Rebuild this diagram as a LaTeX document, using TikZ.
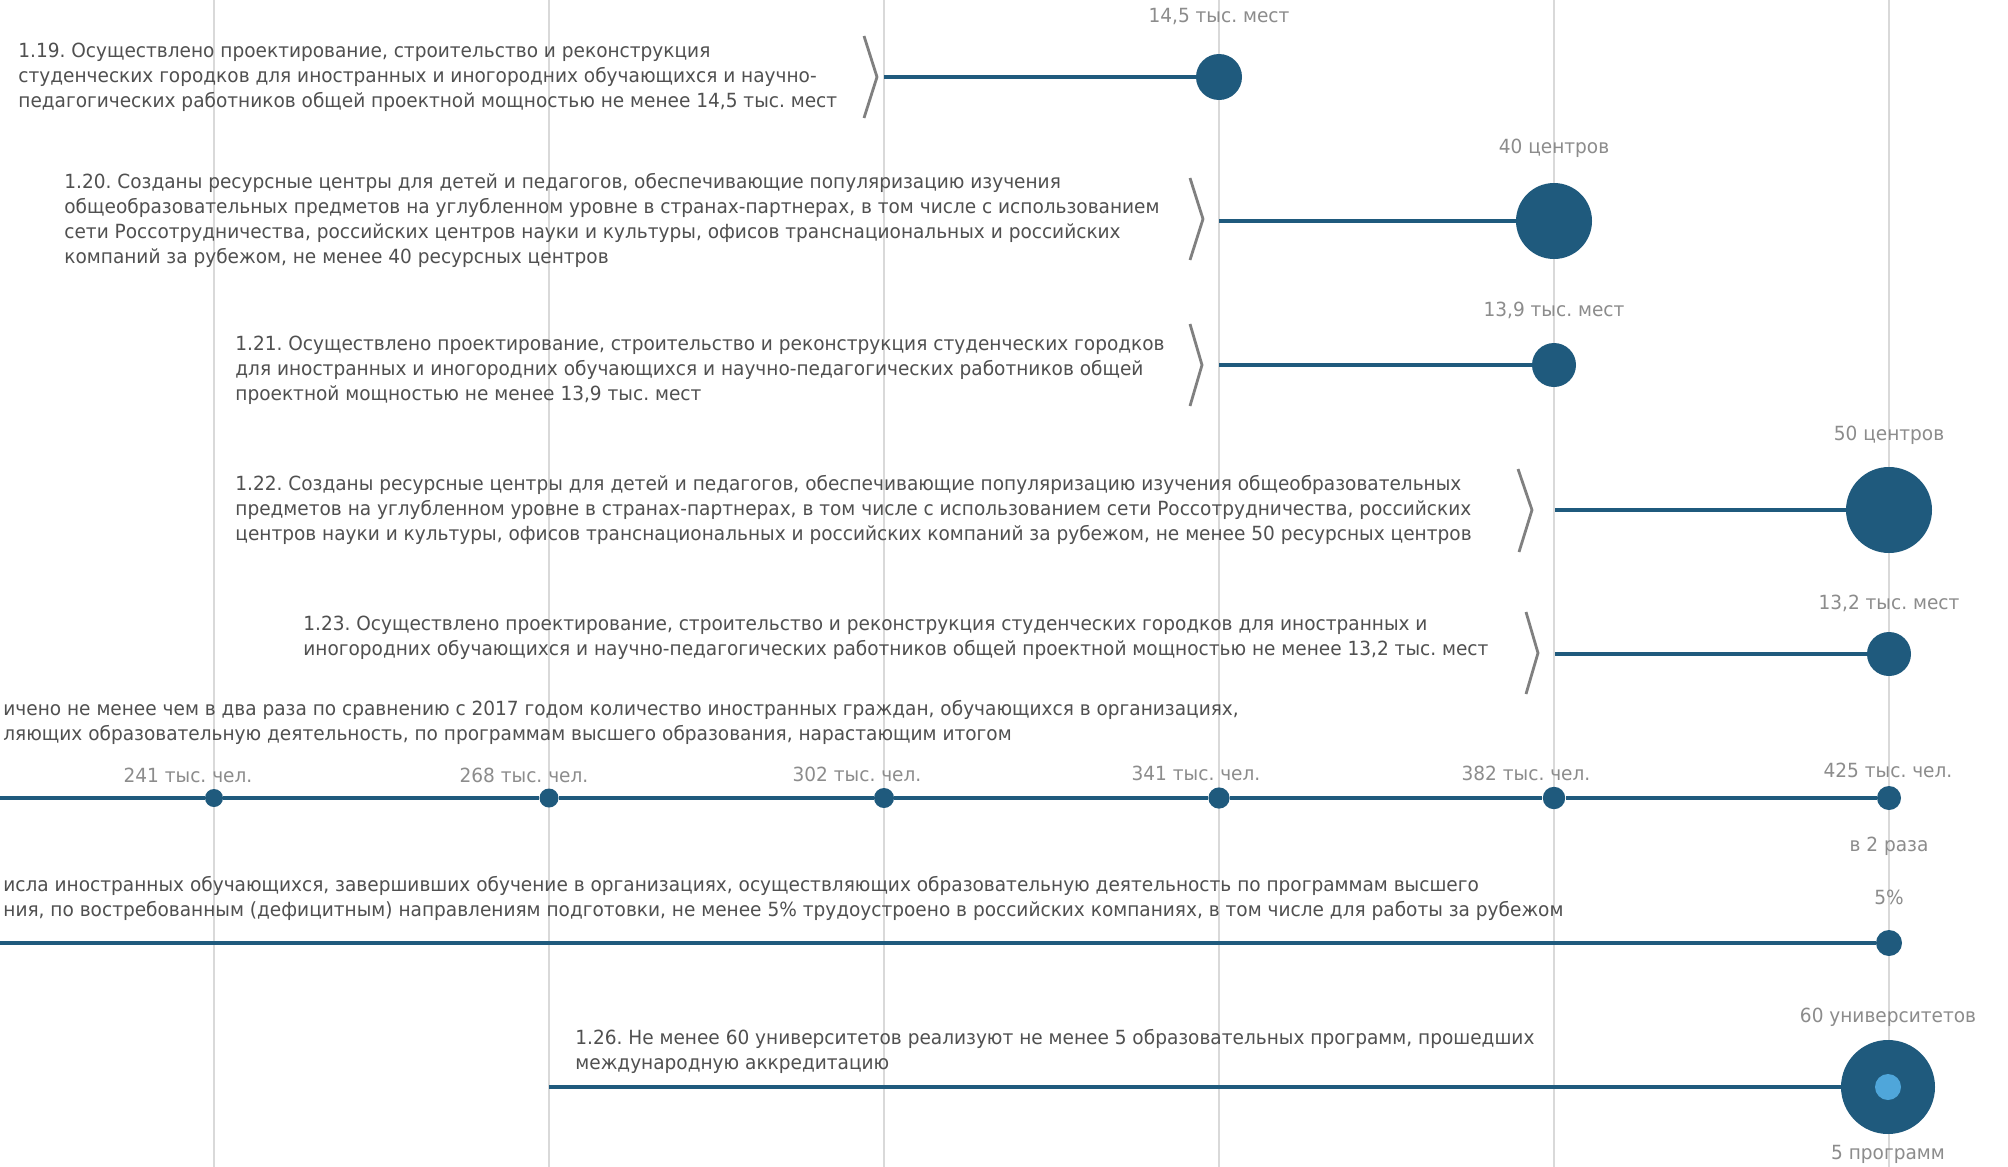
\documentclass[tikz,border=0pt]{standalone}
\usepackage{fontspec}
\setmainfont{DejaVu Sans}[FakeStretch=0.95]
\frenchspacing

\definecolor{barblue}{HTML}{1F5A7D}
\definecolor{gridgray}{HTML}{D9D9D9}
\definecolor{chevgray}{HTML}{808080}
\definecolor{txtgray}{HTML}{505050}
\definecolor{lblgray}{HTML}{8C8C8C}
\definecolor{lightblue}{HTML}{4FA6DA}

\begin{document}
\begin{tikzpicture}[x=0.5pt,y=-0.5pt,
  gridline/.style={gridgray,line width=0.8pt},
  barline/.style={barblue,line width=1.7pt},
  chev/.style={chevgray,line width=1.4pt},
  bubble/.style={circle,fill=barblue,inner sep=0pt},
  txt/.style={txtgray,anchor=west,align=left,inner sep=0pt,font=\fontsize{9.75}{12.5}\selectfont},
  lbl/.style={lblgray,inner sep=0pt,font=\fontsize{9.75}{12.5}\selectfont}]
\fill[white] (0,0) rectangle (2008,1167);
\useasboundingbox (0,0) rectangle (2008,1167);

% grid
\draw[gridline] (214,0) -- (214,1167);
\draw[gridline] (549,0) -- (549,1167);
\draw[gridline] (884,0) -- (884,1167);
\draw[gridline] (1219,0) -- (1219,1167);
\draw[gridline] (1554,0) -- (1554,1167);
\draw[gridline] (1889,0) -- (1889,1167);

% 1.19
\node[txt] (t19) at (18,77) {1.19. Осуществлено проектирование, строительство и реконструкция\\студенческих городков для иностранных и иногородних обучающихся и научно-\\педагогических работников общей проектной мощностью не менее 14,5 тыс. мест};
\draw[chev] (864,36) -- (877,77) -- (864,118);
\coordinate (s19) at (884,77);
\node[bubble,minimum size=23pt] (c19) at (1219,77) {};
\draw[barline] (s19) -- (c19);
\node[lbl] (v19) at (1219,17) {14,5 тыс. мест};

% 1.20
\node[txt] (t20) at (64,220) {1.20. Созданы ресурсные центры для детей и педагогов, обеспечивающие популяризацию изучения\\общеобразовательных предметов на углубленном уровне в странах-партнерах, в том числе с использованием\\сети Россотрудничества, российских центров науки и культуры, офисов транснациональных и российских\\компаний за рубежом, не менее 40 ресурсных центров};
\draw[chev] (1190,178) -- (1203,219) -- (1190,260);
\coordinate (s20) at (1219,221);
\node[bubble,minimum size=38pt] (c20) at (1554,221) {};
\draw[barline] (s20) -- (c20);
\node[lbl] (v20) at (1554,148) {40 центров};

% 1.21
\node[txt] (t21) at (235,370) {1.21. Осуществлено проектирование, строительство и реконструкция студенческих городков\\для иностранных и иногородних обучающихся и научно-педагогических работников общей\\проектной мощностью не менее 13,9 тыс. мест};
\draw[chev] (1190,324) -- (1202,365) -- (1190,406);
\coordinate (s21) at (1219,365);
\node[bubble,minimum size=22pt] (c21) at (1554,365) {};
\draw[barline] (s21) -- (c21);
\node[lbl] (v21) at (1554,310) {13,9 тыс. мест};

% 1.22
\node[txt] (t22) at (235,510) {1.22. Созданы ресурсные центры для детей и педагогов, обеспечивающие популяризацию изучения общеобразовательных\\предметов на углубленном уровне в странах-партнерах, в том числе с использованием сети Россотрудничества, российских\\центров науки и культуры, офисов транснациональных и российских компаний за рубежом, не менее 50 ресурсных центров};
\draw[chev] (1518,469) -- (1532,510) -- (1519,552);
\coordinate (s22) at (1555,510);
\node[bubble,minimum size=43pt] (c22) at (1889,510) {};
\draw[barline] (s22) -- (c22);
\node[lbl] (v22) at (1889,435) {50 центров};

% 1.23
\node[txt] (t23) at (303,638) {1.23. Осуществлено проектирование, строительство и реконструкция студенческих городков для иностранных и\\иногородних обучающихся и научно-педагогических работников общей проектной мощностью не менее 13,2 тыс. мест};
\draw[chev] (1526,612) -- (1538,653) -- (1526,694);
\coordinate (s23) at (1555,654);
\node[bubble,minimum size=22pt] (c23) at (1889,654) {};
\draw[barline] (s23) -- (c23);
\node[lbl] (v23) at (1889,603) {13,2 тыс. мест};

% 1.24
\node[txt] (t24) at (3,722) {ичено не менее чем в два раза по сравнению с 2017 годом количество иностранных граждан, обучающихся в организациях,\\ляющих образовательную деятельность, по программам высшего образования, нарастающим итогом};
\coordinate (a24) at (0,798);
\node[bubble,minimum size=9pt] (d1) at (214,798) {};
\node[bubble,minimum size=9.5pt] (d2) at (549,798) {};
\node[bubble,minimum size=10pt] (d3) at (884,798) {};
\node[bubble,minimum size=10.6pt] (d4) at (1219,798) {};
\node[bubble,minimum size=11.2pt] (d5) at (1554,798) {};
\node[bubble,minimum size=12pt] (d6) at (1889,798) {};
\draw[barline] (a24) -- (d1) -- (d2) -- (d3) -- (d4) -- (d5) -- (d6);
\node[lbl] (v1) at (188,775) {241 тыс. чел.};
\node[lbl] (v2) at (524,775) {268 тыс. чел.};
\node[lbl] (v3) at (857,774) {302 тыс. чел.};
\node[lbl] (v4) at (1196,773) {341 тыс. чел.};
\node[lbl] (v5) at (1526,773) {382 тыс. чел.};
\node[lbl] (v6) at (1888,770) {425 тыс. чел.};
\node[lbl] (w6) at (1889,846) {в 2 раза};

% 1.25
\node[txt] (t25) at (3,898) {исла иностранных обучающихся, завершивших обучение в организациях, осуществляющих образовательную деятельность по программам высшего\\ния, по востребованным (дефицитным) направлениям подготовки, не менее 5\% трудоустроено в российских компаниях, в том числе для работы за рубежом};
\coordinate (a25) at (0,943);
\node[bubble,minimum size=13pt] (c25) at (1889,943) {};
\draw[barline] (a25) -- (c25);
\node[lbl] (v25) at (1889,897) {5\%};

% 1.26
\node[txt] (t26) at (575,1051) {1.26. Не менее 60 университетов реализуют не менее 5 образовательных программ, прошедших\\международную аккредитацию};
\coordinate (s26) at (549,1087);
\node[bubble,minimum size=47pt] (c26) at (1888,1087) {};
\draw[barline] (s26) -- (c26);
\node[circle,fill=lightblue,inner sep=0pt,minimum size=13pt] (c26i) at (c26) {};
\node[lbl] (v26) at (1888,1017) {60 университетов};
\node[lbl] (w26) at (1888,1154) {5 программ};
\end{tikzpicture}
\end{document}
